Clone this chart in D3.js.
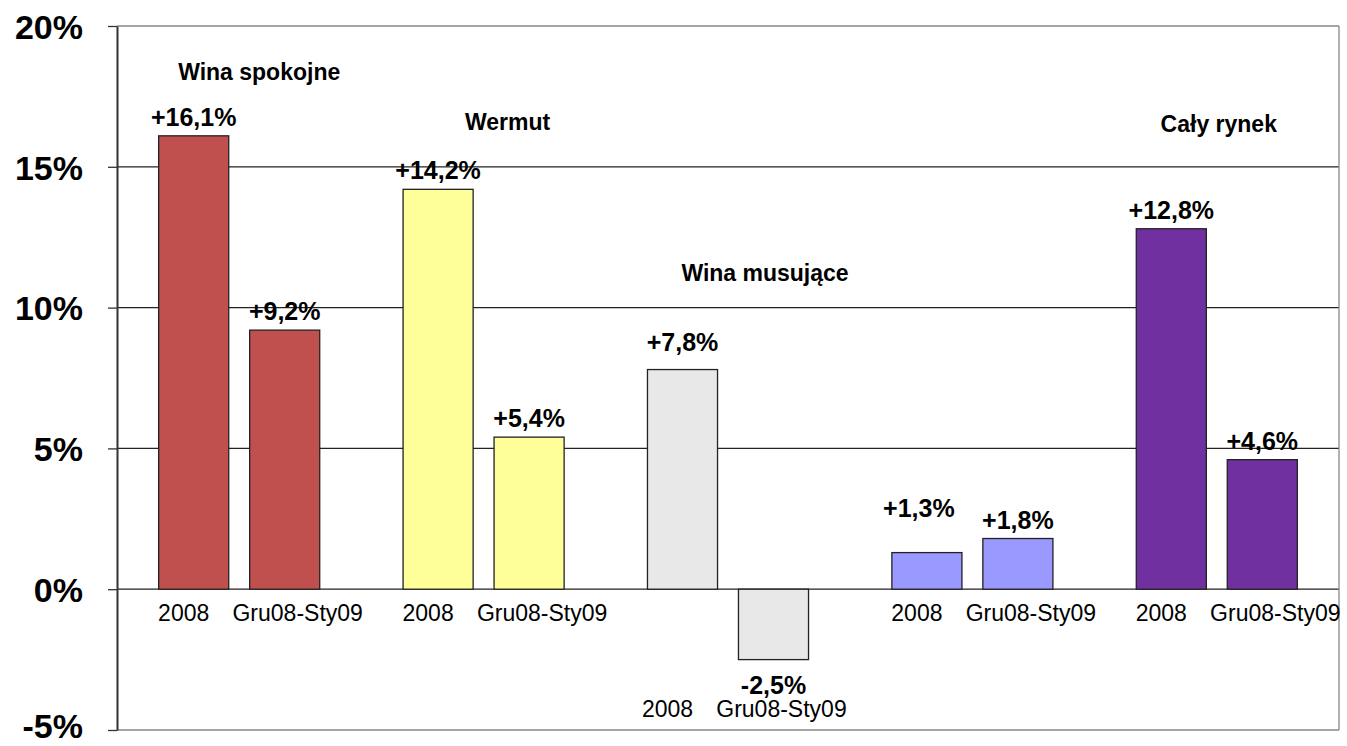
<!DOCTYPE html>
<html>
<head>
<meta charset="utf-8">
<script src="https://cdn.jsdelivr.net/npm/d3@7"></script>
<style>
  body { margin: 0; background: #fff; }
  svg { font-family: "Liberation Sans", Arial, sans-serif; }
  .tick-label { font-size: 34px; font-weight: bold; }
  .value { font-size: 25px; font-weight: bold; }
  .title { font-size: 23px; font-weight: bold; }
  .cat { font-size: 23px; }
</style>
</head>
<body>
<svg width="1347" height="746"></svg>
<script>
// data
const groups = ['Wina spokojne', 'Wermut', 'Wina musujące', '', 'Cały rynek'];
const periods = ['2008', 'Gru08-Sty09'];
const values2008 = [16.1, 14.2, 7.8, 1.3, 12.8];
const valuesGruSty = [9.2, 5.4, -2.5, 1.8, 4.6];
const yTicks = [-5, 0, 5, 10, 15, 20];
const colors = ['#C0504D', '#FFFF99', '#E8E8E8', '#9999FF', '#7030A0'];

// where the titles sit: x shift from group centre, y in percent
const titlePos = [[20, 18.1], [24, 16.3], [37, 10.95], [0, 0], [2, 16.25]];
// extra lift of a few value labels (px), keyed "group|period"
const labelLift = { '2|0': 9, '3|0': 26 };

const fmt = v => (v > 0 ? '+' : v < 0 ? '-' : '') + d3.format('.1f')(Math.abs(v)).replace('.', ',') + '%';

const margin = { top: 26, right: 8, bottom: 16, left: 117 };
const W = 1347, H = 746;

const svg = d3.select('svg');

const x0 = d3.scaleBand().domain(d3.range(groups.length))
  .range([margin.left, W - margin.right]).padding(0);
const x1 = d3.scaleBand().domain(d3.range(periods.length))
  .range([0, x0.bandwidth()]).paddingInner(0.23).paddingOuter(0.458);
const y = d3.scaleLinear().domain([-5, 20]).range([H - margin.bottom, margin.top]);

// gridlines
svg.append('g').selectAll('line')
  .data(yTicks)
  .join('line')
  .attr('x1', margin.left).attr('x2', W - margin.right)
  .attr('y1', d => y(d)).attr('y2', d => y(d))
  .attr('stroke', d => (d === 20 || d === -5) ? '#888' : '#222')
  .attr('stroke-width', d => (d === 20 || d === -5) ? 1.5 : 1.3);

// right border
svg.append('line')
  .attr('x1', W - margin.right).attr('x2', W - margin.right)
  .attr('y1', y(20)).attr('y2', y(-5))
  .attr('stroke', '#888').attr('stroke-width', 1.3);

// y axis
const yAxis = svg.append('g')
  .attr('transform', 'translate(' + margin.left + ',0)')
  .call(d3.axisLeft(y).tickValues(yTicks).tickSize(9).tickSizeOuter(0).tickFormat(d => d + '%'));
yAxis.select('.domain').attr('stroke', '#333').attr('stroke-width', 2);
yAxis.selectAll('.tick line').attr('stroke', '#333').attr('stroke-width', 1.3);
yAxis.selectAll('.tick text')
  .attr('class', 'tick-label')
  .attr('x', -34)
  .attr('y', d => d === -5 ? -5 : 0)
  .attr('dy', '0.36em')
  .attr('fill', '#000')
  .style('font-family', '"Liberation Sans", Arial, sans-serif');

// bars
const rows = [];
groups.forEach((g, i) => {
  [values2008[i], valuesGruSty[i]].forEach((v, j) => rows.push({ g: i, p: j, v: v }));
});

const bars = svg.append('g');
bars.selectAll('rect')
  .data(rows)
  .join('rect')
  .attr('x', d => x0(d.g) + x1(d.p))
  .attr('width', x1.bandwidth())
  .attr('y', d => y(Math.max(0, d.v)))
  .attr('height', d => Math.abs(y(d.v) - y(0)))
  .attr('fill', d => colors[d.g])
  .attr('stroke', '#222')
  .attr('stroke-width', 1.3);

// value labels
svg.append('g').selectAll('text')
  .data(rows)
  .join('text')
  .attr('class', 'value')
  .attr('text-anchor', 'middle')
  .attr('x', d => x0(d.g) + x1(d.p) + x1.bandwidth() / 2 + (d.g === 3 && d.p === 0 ? -8 : 0))
  .attr('y', d => d.v >= 0
    ? y(d.v) - 10 - (labelLift[d.g + '|' + d.p] || 0)
    : y(d.v) + 34)
  .text(d => fmt(d.v));

// category labels under each bar
const catShift = [-10, 13];
svg.append('g').selectAll('text')
  .data(rows)
  .join('text')
  .attr('class', 'cat')
  .attr('text-anchor', 'middle')
  .attr('x', d => x0(d.g) + x1(d.p) + x1.bandwidth() / 2 + catShift[d.p] + (d.g === 2 ? -5 : 0))
  .attr('y', d => {
    const neg = Math.min(values2008[d.g], valuesGruSty[d.g]) < 0;
    return neg ? y(-5) - 13 : y(0) + 32;
  })
  .text(d => periods[d.p]);

// group titles
svg.append('g').selectAll('text')
  .data(groups.map((g, i) => ({ name: g, i: i })).filter(d => d.name))
  .join('text')
  .attr('class', 'title')
  .attr('text-anchor', 'middle')
  .attr('x', d => x0(d.i) + x0.bandwidth() / 2 + titlePos[d.i][0])
  .attr('y', d => y(titlePos[d.i][1]))
  .text(d => d.name);
</script>
</body>
</html>
